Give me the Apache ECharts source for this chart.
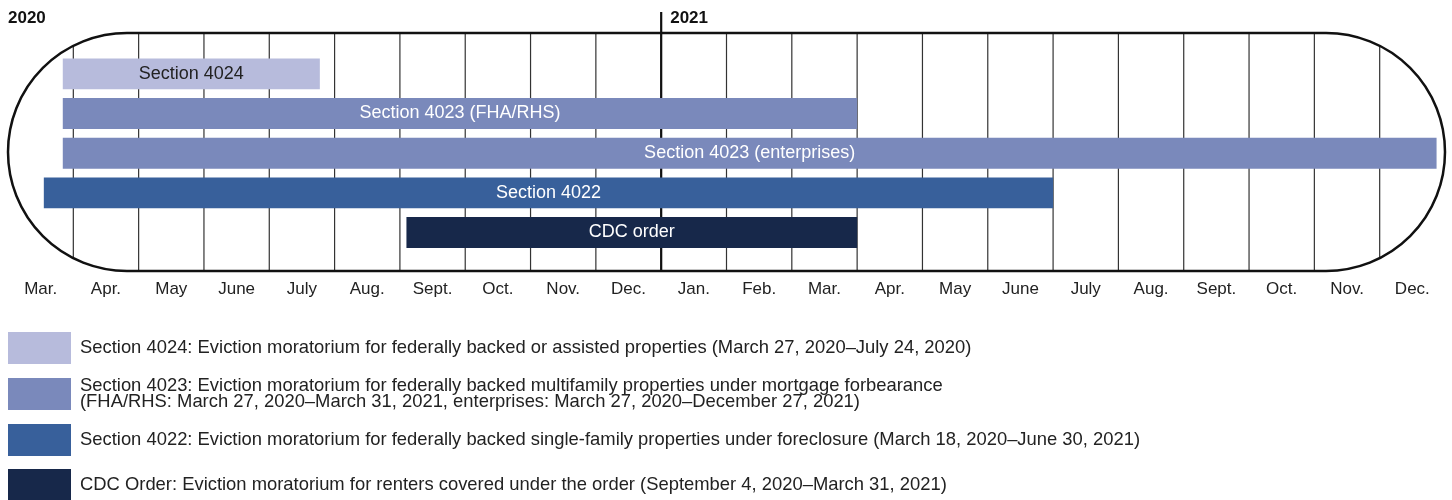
<!DOCTYPE html>
<html>
<head>
<meta charset="utf-8">
<script src="https://cdn.jsdelivr.net/npm/echarts@6/dist/echarts.min.js"></script>
<style>
  html, body { margin: 0; padding: 0; background: #fff; }
  #chart-container { width: 1452px; height: 500px; }
</style>
</head>
<body>
<div id="chart-container"></div>
<script>
// timeline runs March 2020 (month 0) to end of December 2021 (month 22)
const monthLabels = ['Mar.', 'Apr.', 'May', 'June', 'July', 'Aug.', 'Sept.', 'Oct.', 'Nov.', 'Dec.',
  'Jan.', 'Feb.', 'Mar.', 'Apr.', 'May', 'June', 'July', 'Aug.', 'Sept.', 'Oct.', 'Nov.', 'Dec.'];
const yearLabels = ['2020', '2021'];
const yearStartMonth = [0, 10];

const barLabels = ['Section 4024', 'Section 4023 (FHA/RHS)', 'Section 4023 (enterprises)', 'Section 4022', 'CDC order'];
const barGroups = ['Section 4024', 'Section 4023', 'Section 4023', 'Section 4022', 'CDC Order'];
const barStarts = ['2020-03-27', '2020-03-27', '2020-03-27', '2020-03-18', '2020-09-04'];
const barEnds = ['2020-07-24', '2021-03-31', '2021-12-27', '2021-06-30', '2021-03-31'];

const groupNames = ['Section 4024', 'Section 4023', 'Section 4022', 'CDC Order'];
const groupColors = ['#b7bbdc', '#7a89bb', '#38609b', '#17284a'];
const groupTextColors = ['#222', '#fff', '#fff', '#fff'];
const groupDescriptions = [
  'Section 4024: Eviction moratorium for federally backed or assisted properties (March 27, 2020\u2013July 24, 2020)',
  'Section 4023: Eviction moratorium for federally backed multifamily properties under mortgage forbearance\n(FHA/RHS: March 27, 2020\u2013March 31, 2021, enterprises: March 27, 2020\u2013December 27, 2021)',
  'Section 4022: Eviction moratorium for federally backed single-family properties under foreclosure (March 18, 2020\u2013June 30, 2021)',
  'CDC Order: Eviction moratorium for renters covered under the order (September 4, 2020\u2013March 31, 2021)',
];

const FONT = '"Liberation Sans", Arial, sans-serif';

// date string -> month position on the axis (end dates count the whole day)
const toMonthPos = (str, isEnd) => {
  const [y, m, d] = str.split('-').map(Number);
  const daysInMonth = new Date(y, m, 0).getDate();
  return (y - 2020) * 12 + (m - 3) + (d - 1 + (isEnd ? 1 : 0)) / daysInMonth;
};

const dom = document.getElementById('chart-container');
const myChart = echarts.init(dom, null, { renderer: 'canvas' });

const renderBar = (params, api) => {
  const start = api.coord([api.value(0), api.value(2)]);
  const end = api.coord([api.value(1), api.value(2)]);
  const height = api.size([0, 1])[1] * 0.78;
  const g = groupNames.indexOf(barGroups[api.value(3)]);
  return {
    type: 'rect',
    shape: { x: start[0], y: start[1] - height / 2, width: end[0] - start[0], height: height },
    style: { fill: groupColors[g] },
    textContent: {
      style: { text: barLabels[api.value(3)], fill: groupTextColors[g], font: '18px ' + FONT },
    },
    textConfig: { position: 'inside' },
  };
};

// vertical month dividers, clipped to the rounded frame
const renderGrid = (params, api) => {
  const cs = params.coordSys;
  const r = cs.height / 2;
  const cy = cs.y + r;
  const x = api.coord([api.value(0), 0])[0];
  let half = r;
  if (x < cs.x + r) {
    const dx = cs.x + r - x;
    half = Math.sqrt(Math.max(r * r - dx * dx, 0));
  } else if (x > cs.x + cs.width - r) {
    const dx = x - (cs.x + cs.width - r);
    half = Math.sqrt(Math.max(r * r - dx * dx, 0));
  }
  return {
    type: 'line',
    shape: { x1: x, y1: cy - half, x2: x, y2: cy + half },
    style: { stroke: '#333', lineWidth: 1.2 },
  };
};

const renderFrame = (params, api) => {
  const cs = params.coordSys;
  return {
    type: 'rect',
    shape: { x: cs.x, y: cs.y, width: cs.width, height: cs.height, r: cs.height / 2 },
    style: { fill: null, stroke: '#111', lineWidth: 2.5 },
  };
};

const renderYear = (params, api) => {
  const cs = params.coordSys;
  const x = api.coord([api.value(0), 0])[0];
  const children = [];
  if (api.value(0) > 0) {
    children.push({
      type: 'line',
      shape: { x1: x, y1: cs.y - 21, x2: x, y2: cs.y + cs.height },
      style: { stroke: '#111', lineWidth: 2.2 },
    });
  }
  children.push({
    type: 'text',
    x: api.value(0) > 0 ? x + 9 : x,
    y: cs.y - 15,
    style: {
      text: yearLabels[api.value(1)],
      fill: '#111',
      font: 'bold 17px ' + FONT,
      verticalAlign: 'middle',
      align: 'left',
    },
  });
  return { type: 'group', children };
};

const barSeries = groupNames.map((name, g) => ({
  type: 'custom',
  name: name,
  renderItem: renderBar,
  xAxisIndex: 0,
  yAxisIndex: 0,
  encode: { x: [0, 1], y: 2 },
  itemStyle: { color: groupColors[g] },
  z: 10,
  data: barLabels
    .map((_, i) => [toMonthPos(barStarts[i], false), toMonthPos(barEnds[i], true), i, i])
    .filter((_, i) => barGroups[i] === name),
}));

const option = {
  animation: false,
  grid: { left: 8, right: 7, top: 33, bottom: 229 },
  xAxis: [
    {
      type: 'value',
      min: 0,
      max: monthLabels.length,
      interval: 1,
      show: false,
    },
    {
      type: 'category',
      position: 'bottom',
      data: monthLabels.map((_, i) => String(i)),
      boundaryGap: true,
      axisLine: { show: false },
      axisTick: { show: false },
      splitLine: { show: false },
      axisLabel: {
        interval: 0,
        margin: 10,
        color: '#222',
        fontSize: 17,
        fontFamily: FONT,
        formatter: (v) => monthLabels[Number(v)],
      },
    },
  ],
  yAxis: {
    type: 'value',
    min: -1.03,
    max: 4.97,
    inverse: true,
    show: false,
  },
  legend: {
    orient: 'vertical',
    left: 8,
    top: 332,
    height: 220,
    padding: 0,
    itemWidth: 63,
    itemHeight: 32,
    itemGap: 13,
    icon: 'rect',
    selectedMode: false,
    data: groupNames,
    formatter: (name) => groupDescriptions[groupNames.indexOf(name)],
    textStyle: { fontSize: 18.4, color: '#222', lineHeight: 16, fontFamily: FONT, padding: [0, 0, 0, 4] },
  },
  series: [
    {
      type: 'custom',
      name: 'grid',
      renderItem: renderGrid,
      data: monthLabels.slice(1).map((_, i) => [i + 1]),
      z: 1,
      silent: true,
    },
    {
      type: 'custom',
      name: 'frame',
      renderItem: renderFrame,
      data: [[0]],
      z: 2,
      silent: true,
    },
    {
      type: 'custom',
      name: 'years',
      renderItem: renderYear,
      data: yearStartMonth.map((m, i) => [m, i]),
      z: 3,
      silent: true,
    },
    ...barSeries,
  ],
};

myChart.setOption(option);
window.addEventListener('resize', myChart.resize);
</script>
</body>
</html>
